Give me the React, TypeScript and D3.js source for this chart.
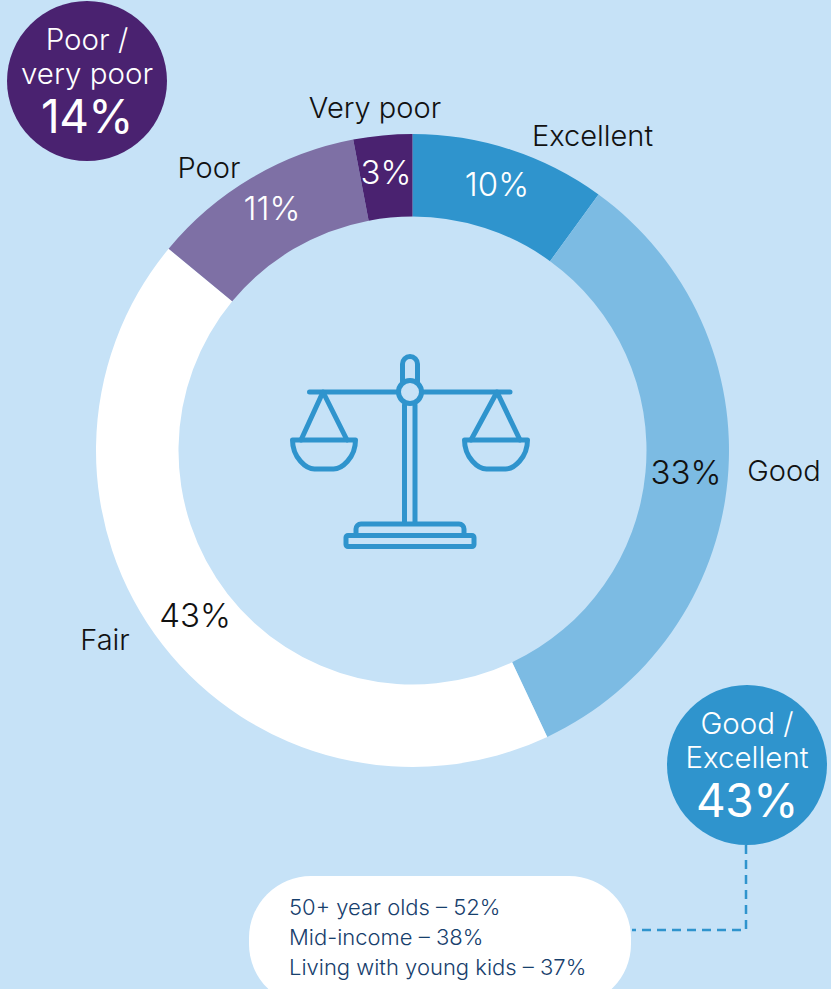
import React from "react";
import * as d3 from "d3";

const categories = ["Excellent", "Good", "Fair", "Poor", "Very poor"];
const shares = [10, 33, 43, 11, 3];
const sliceColors = ["#2f94cd", "#7cbbe3", "#ffffff", "#7e70a5", "#4a2270"];
const valueColors = ["#ffffff", "#111111", "#111111", "#ffffff", "#ffffff"];
const subgroupLines = ["50+ year olds – 52%", "Mid-income – 38%", "Living with young kids – 37%"];

const W = 831, H = 989;
const cx = 412.5, cy = 450.5, R = 316.5, r = 234;
const FONT = "Inter, Lato, 'Noto Sans', sans-serif";
const BG = "#c6e2f7", BLUE = "#2f94cd", PURPLE = "#4a2270";

// label anchor points, keyed by category
const namePos: Record<string, [number, number]> = {
  Excellent: [592.5, 146], Good: [784, 481], Fair: [105, 650], Poor: [209, 178], "Very poor": [375, 118],
};
const valuePos: Record<string, [number, number]> = {
  Excellent: [497, 196], Good: [686, 484], Fair: [195, 627], Poor: [272, 220], "Very poor": [386, 184],
};

function Bubble({ x, y, lines, value, bg }: { x: number; y: number; lines: string[]; value: string; bg: string }) {
  return (
    <g textAnchor="middle" fill="#fff">
      <circle cx={x} cy={y} r={80} fill={bg} />
      <text x={x} y={y - 31} fontSize={29.5} fontWeight={300}>{lines[0]}</text>
      <text x={x} y={y + 3} fontSize={29.5} fontWeight={300}>{lines[1]}</text>
      <text x={x} y={y + 52} fontSize={46} fontWeight={400} letterSpacing={-0.5}>{value}</text>
    </g>
  );
}

function Scales() {
  const bowl = (a: number, b: number) => `M${a} 440H${b}C${b} 458 ${b - 14} 469 ${b - 22} 469H${a + 22}C${a + 14} 469 ${a} 458 ${a} 440Z`;
  return (
    <g fill="none" stroke={BLUE} strokeWidth={5} strokeLinejoin="round" strokeLinecap="round">
      <path d="M309.5 392H398M422 392H510" />
      <path d="M402.5 382V364a7.5 7.5 0 0 1 15 0V382" />
      <circle cx={410} cy={392} r={11.5} />
      <path d="M404.5 405V522M415 405V522" />
      <path d="M301 440L323 392L347 440M471 440L497 392L520 440" />
      <path d={bowl(292.5, 355.5)} />
      <path d={bowl(464.5, 527.5)} />
      <path d="M356 533V529a5 5 0 0 1 5-5H459a5 5 0 0 1 5 5V533" />
      <rect x={346} y={535.5} width={128} height={11} rx={2} />
    </g>
  );
}

export default function App() {
  const pie = d3.pie<number>().sort(null).value((d) => d)(shares);
  const arc = d3.arc<d3.PieArcDatum<number>>().innerRadius(r).outerRadius(R);
  return (
    <svg width={W} height={H} viewBox={`0 0 ${W} ${H}`} fontFamily={FONT}
      style={{ position: "absolute", left: 0, top: 0, display: "block", background: BG }}>
      <g transform={`translate(${cx},${cy})`}>
        {pie.map((p, i) => <path key={categories[i]} d={arc(p) ?? ""} fill={sliceColors[i]} />)}
      </g>
      {categories.map((c, i) => (
        <g key={c} textAnchor="middle" fontWeight={300}>
          <text x={namePos[c][0]} y={namePos[c][1]} fontSize={29} fill="#111">{c}</text>
          <text x={valuePos[c][0]} y={valuePos[c][1]} fontSize={33} fill={valueColors[i]}>{shares[i]}%</text>
        </g>
      ))}
      <Scales />
      <Bubble x={87} y={81} bg={PURPLE} lines={["Poor /", "very poor"]} value="14%" />
      <Bubble x={747} y={765} bg={BLUE} lines={["Good /", "Excellent"]} value="43%" />
      <path d="M746 845V930H632" fill="none" stroke={BLUE} strokeWidth={2.5} strokeDasharray="9 6" />
      <rect x={249} y={876} width={382} height={130} rx={62} fill="#fff" />
      {subgroupLines.map((t, i) => (
        <text key={t} x={289} y={915 + i * 30} fontSize={22} fontWeight={300} fill="#17406d">{t}</text>
      ))}
    </svg>
  );
}
